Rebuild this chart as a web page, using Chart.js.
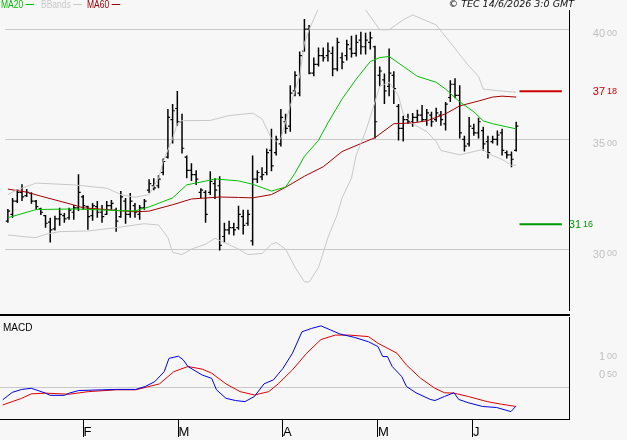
<!DOCTYPE html>
<html lang="en">
<head>
  <meta charset="UTF-8"/>
  <title>TEC chart</title>
  <style>
    body { margin: 0; background: #f7f7f7; }
    #wrap { position: relative; width: 627px; height: 440px; overflow: hidden; background: #f7f7f7; font-family: "Liberation Sans", Arial, sans-serif; }
    canvas { position: absolute; left: 0; }
    #main { top: 0; }
    #macd { top: 316px; }
    .sep { position: absolute; left: 0; top: 314px; width: 570px; height: 2px; background: #000; }
    .lg { position: absolute; top: 0; font-size: 10px; line-height: 10px; white-space: nowrap; transform: scaleX(.85); transform-origin: 0 0; }
    .dash { display: inline-block; width: 10px; height: 0; border-top: 1px solid currentColor; vertical-align: middle; margin-left: 3px; position: relative; top: -1px; }
    .copy { position: absolute; right: 53px; top: -1px; font: italic 9.5px/10px "DejaVu Sans", sans-serif; color: #111; white-space: nowrap; }
    .panel { position: absolute; left: 3px; top: 323px; font-size: 10px; line-height: 10px; color: #000; }
  </style>
</head>
<body>
  <div id="wrap">
    <canvas id="main" width="627" height="316"></canvas>
    <canvas id="macd" width="627" height="124"></canvas>
    <div class="sep"></div>
    <div class="lg" style="left:1px;color:#00c000">MA20<span class="dash"></span></div>
    <div class="lg" style="left:41px;color:#c8c8c8">BBands<span class="dash"></span></div>
    <div class="lg" style="left:87px;color:#a00000">MA60<span class="dash"></span></div>
    <div class="copy">© TEC 14/6/2026 3:0 GMT</div>
    <div class="panel">MACD</div>
  </div>
  <script src="https://cdn.jsdelivr.net/npm/chart.js"></script>
  <script>
    // daily bars, Jan -> 12 Jun 2026
    const opens = [31.30,31.60,32.20,32.60,32.45,32.55,32.20,31.85,31.55,31.25,
      30.95,31.40,31.55,31.45,31.70,31.90,32.40,31.95,31.55,31.95,
      31.70,31.60,32.00,31.80,31.50,32.20,31.60,32.00,31.60,31.90,
      32.70,32.90,32.90,33.50,34.20,35.90,36.40,35.80,34.20,33.60,
      33.40,32.60,32.60,32.60,33.00,32.90,30.60,30.90,31.00,31.00,
      31.50,31.20,30.40,33.20,33.30,33.50,34.50,34.40,34.80,35.80,
      35.60,37.20,37.10,39.00,40.00,38.00,38.40,38.80,38.80,38.90,
      38.20,38.70,38.80,39.10,38.90,39.50,39.20,39.40,39.20,37.90,
      37.70,37.40,37.90,36.50,35.50,35.90,35.80,36.00,36.10,35.90,
      36.10,35.90,36.10,35.70,36.90,37.50,37.00,35.00,34.80,35.50,
      35.30,35.40,34.90,34.90,35.00,35.30,34.40,34.30,34.50]
    const highs = [31.85,32.35,32.75,32.97,32.75,32.61,32.26,31.90,31.58,31.45,
      31.54,31.90,31.67,31.90,32.03,33.42,32.48,31.99,32.12,32.21,
      32.03,32.21,32.26,31.90,32.66,32.35,32.57,32.12,32.03,32.30,
      33.20,33.24,33.38,34.14,36.38,36.61,37.19,36.16,34.27,33.92,
      33.60,32.79,32.70,33.56,33.24,33.33,31.22,31.31,31.22,31.99,
      31.81,31.81,34.27,33.60,33.74,34.59,35.48,35.17,36.38,36.16,
      37.46,38.09,38.98,40.46,40.19,38.71,39.16,39.16,39.39,39.21,
      39.61,38.94,39.52,39.70,39.74,39.88,39.83,39.88,39.25,38.31,
      37.99,39.12,38.09,36.61,36.07,36.16,36.20,36.34,36.56,36.38,
      36.25,36.43,36.29,36.70,37.68,37.77,37.46,35.17,36.02,35.71,
      35.98,35.57,35.17,35.17,35.40,35.48,34.50,34.45,35.80]
    const lows = [31.22,31.45,32.12,32.21,32.39,32.08,31.81,31.58,31.00,30.33,
      30.87,31.09,31.22,31.36,31.36,31.76,31.81,30.91,31.31,31.45,
      31.22,31.58,31.81,30.82,31.45,31.18,31.45,31.45,31.36,31.81,
      32.57,32.70,32.79,33.38,34.14,34.81,35.62,34.36,33.24,33.11,
      32.93,32.35,31.22,32.48,32.30,29.97,30.33,30.69,30.64,30.91,
      30.69,31.09,30.19,33.02,33.15,33.38,33.56,34.27,34.68,35.26,
      35.35,36.96,36.96,38.98,37.95,37.86,38.31,38.53,38.53,37.86,
      38.09,38.18,38.58,38.71,38.76,38.85,38.85,39.07,35.04,37.41,
      36.61,36.96,36.61,34.95,34.90,35.71,35.57,35.80,35.80,35.62,
      35.57,35.80,35.62,35.40,36.70,36.87,35.04,34.45,34.68,35.17,
      35.04,34.50,34.14,34.81,34.72,34.27,34.14,33.74,34.45]
    const closes = [31.75,32.20,32.60,32.40,32.60,32.20,31.95,31.70,31.20,30.90,
      31.40,31.60,31.40,31.80,31.90,32.60,32.00,31.50,32.00,31.70,
      31.50,32.00,32.10,31.30,32.40,31.60,32.20,31.70,31.90,32.20,
      33.00,32.80,33.20,34.00,36.00,36.30,35.80,34.60,33.60,33.40,
      33.20,32.70,31.60,33.10,32.70,30.20,30.90,31.00,30.90,31.60,
      31.10,31.60,33.20,33.50,33.40,34.40,33.80,35.00,36.00,35.50,
      37.10,37.90,38.80,40.00,38.00,38.40,38.80,38.70,39.00,38.20,
      39.40,38.50,39.30,38.90,39.40,39.20,39.50,39.60,35.80,38.10,
      37.20,38.00,37.30,35.50,35.90,35.80,36.00,36.10,35.90,36.20,
      35.80,36.20,35.90,36.60,37.50,37.00,35.30,34.70,35.60,35.30,
      35.80,34.80,34.40,35.00,35.20,34.50,34.30,34.10,35.60]

    // indicator lines, read at these bar numbers
    const ma20At = [0,6,14,23,27,30,35,38,42,44,49,52,56,59,61,63,66,68,71,74,77,79,81,84,87,91,93,96,99,101,103,106,108]
    const ma20 = [31.45,31.82,31.85,31.78,31.76,31.94,32.35,32.94,33.11,33.21,33.12,32.97,32.66,32.84,33.47,34.23,34.96,35.75,36.83,37.73,38.53,38.71,38.76,38.31,37.86,37.59,37.28,36.70,36.25,35.84,35.71,35.57,35.48]
    const ma60At = [0,4,7,10,14,16,21,23,27,30,35,39,45,49,52,56,59,63,67,71,78,82,86,89,93,96,100,103,105,108]
    const ma60 = [32.75,32.61,32.43,32.26,32.03,31.90,31.82,31.78,31.72,31.75,32.04,32.30,32.39,32.37,32.35,32.50,32.83,33.33,33.76,34.45,35.08,35.71,35.75,35.84,36.16,36.52,36.74,36.92,36.96,36.92]
    const bbUpAt = [0,2,6,14,21,24,27,30,32,33,35,36,37,43,47,52,54,56,57,58,60,62,63,64,66,70,73,76,79,81,84,86,91,94,98,100,101,105,108]
    const bbUp = [32.50,32.72,33.02,32.94,32.79,32.50,32.38,32.50,33.24,34.00,35.04,35.71,35.85,35.86,36.08,36.19,35.93,35.04,34.92,35.04,36.53,37.87,39.37,39.97,40.94,41.70,41.60,40.87,39.97,39.97,40.42,40.64,40.19,39.39,38.31,37.86,37.28,37.19,37.14]
    const bbLowAt = [0,4,6,8,11,17,23,29,32,34,35,37,39,42,44,46,49,51,54,56,57,59,61,63,64,66,68,70,71,73,74,76,78,79,81,83,84,86,89,91,92,96,99,101,102,105,107,108]
    const bbLow = [30.67,30.58,30.55,30.70,30.82,30.85,31.00,31.18,31.12,30.55,29.88,29.78,30.03,30.25,30.52,30.33,30.03,29.78,29.83,30.25,30.33,30.03,29.21,28.55,28.53,29.20,30.55,31.60,32.35,33.24,34.29,35.35,36.70,37.41,37.59,36.96,36.16,35.71,35.35,34.90,34.50,34.30,34.45,34.55,34.36,34.09,33.83,33.83]

    // levels shown at the right
    const levels = [37.18, 31.16]

    // MACD panel
    const macdAt = [0,2,4,6,7,9,10,13,14,16,21,24,28,30,32,34,35,37,38,39,42,44,45,47,49,51,53,55,57,59,61,63,65,67,69,71,74,77,79,80,81,82,84,85,87,90,91,93,95,96,98,101,104,107,108]
    const macd = [-0.32,-0.12,-0.04,-0.01,-0.05,-0.14,-0.20,-0.20,-0.14,-0.07,-0.05,-0.04,-0.04,0.04,0.17,0.44,0.80,0.86,0.76,0.58,0.35,0.26,-0.05,-0.28,-0.34,-0.37,-0.23,0.11,0.22,0.53,0.94,1.52,1.61,1.68,1.57,1.46,1.37,1.25,1.12,0.85,0.85,0.58,0.31,0.04,-0.13,-0.31,-0.34,-0.23,-0.13,-0.31,-0.40,-0.50,-0.53,-0.64,-0.50]
    const signalAt = [0,4,6,9,14,18,24,28,33,36,39,42,44,47,50,53,56,58,61,64,67,70,73,77,79,83,85,88,91,93,95,98,102,105,108]
    const signal = [-0.46,-0.28,-0.16,-0.14,-0.17,-0.10,-0.05,-0.05,0.11,0.44,0.58,0.51,0.40,0.11,-0.10,-0.19,-0.10,0.11,0.49,0.94,1.31,1.43,1.43,1.39,1.21,0.94,0.62,0.26,-0.01,-0.13,-0.14,-0.23,-0.37,-0.44,-0.50]

    const monthStarts = [17, 37, 59, 79, 99]
    const monthLabels = ['F', 'M', 'A', 'M', 'J']
    const priceTicks = [30, 35, 40]
    const macdTicks = [0.5, 1]

    // layout of the plot
    const X_MIN = -0.57, X_MAX = 119.22
    const LEVEL_FROM = 108.7, LEVEL_TO = 117.7
    const TICK = 0.24
    const GRAY = '#c8c8c8'
    Chart.defaults.font.family = '"Liberation Sans", Arial, sans-serif'

    const pts = (xs, ys) => xs.map((x, k) => ({ x, y: ys[k] }))
    const idx = opens.map((_, i) => i)
    const line = (label, data, color, width) => ({
      type: 'line', label, data, borderColor: color, borderWidth: width || 1,
      pointRadius: 0, tension: 0, order: 1
    })

    // price labels like 40⁰⁰
    const splitLabels = {
      id: 'splitLabels',
      afterDraw(chart, args, opts) {
        const ctx = chart.ctx, y = chart.scales.y
        ctx.save()
        ctx.textBaseline = 'alphabetic'
        opts.items.forEach(it => {
          const [big, small] = it.value.toFixed(2).split('.')
          const py = y.getPixelForValue(it.value) + it.shift
          ctx.fillStyle = it.color
          ctx.font = '11px "Liberation Sans", Arial, sans-serif'
          ctx.textAlign = 'right'
          ctx.fillText(big, it.x, py)
          ctx.font = '9px "Liberation Sans", Arial, sans-serif'
          ctx.textAlign = 'left'
          ctx.fillText(small, it.x + 2, py - 1.5)
        })
        ctx.restore()
      }
    }

    new Chart(document.getElementById('main'), {
      type: 'bar',
      data: {
        datasets: [
          line('MA20', pts(ma20At, ma20), '#00c000'),
          line('BB up', pts(bbUpAt, bbUp), GRAY),
          line('BB low', pts(bbLowAt, bbLow), GRAY),
          line('MA60', pts(ma60At, ma60), '#a00000'),
          line('resistance', [{ x: LEVEL_FROM, y: levels[0] }, { x: LEVEL_TO, y: levels[0] }], '#cc0000', 2),
          line('support', [{ x: LEVEL_FROM, y: levels[1] }, { x: LEVEL_TO, y: levels[1] }], '#009900', 2),
          {
            type: 'bar', label: 'range', order: 3,
            data: idx.map(i => ({ x: i, y: [lows[i], highs[i]] })),
            backgroundColor: '#000', barThickness: 1.5, inflateAmount: 0, borderWidth: 0
          },
          {
            type: 'scatter', label: 'open', order: 2,
            data: idx.map(i => ({ x: i - TICK, y: opens[i] })),
            pointStyle: 'line', radius: 1.1, borderColor: '#000', borderWidth: 1.2
          },
          {
            type: 'scatter', label: 'close', order: 2,
            data: idx.map(i => ({ x: i + TICK, y: closes[i] })),
            pointStyle: 'line', radius: 1.1, borderColor: '#000', borderWidth: 1.2
          }
        ]
      },
      options: {
        responsive: false, animation: false, events: [],
        layout: { padding: { top: 10, bottom: 2, left: 0, right: 0 } },
        plugins: {
          legend: { display: false }, tooltip: { enabled: false },
          splitLabels: { items: [
            ...priceTicks.map(v => ({ value: v, color: '#c0c0c0', x: 605, shift: 8 })),
            { value: levels[0], color: '#cc0000', x: 605, shift: 4 },
            { value: levels[1], color: '#009900', x: 581, shift: 4 }
          ] }
        },
        scales: {
          x: { type: 'linear', min: X_MIN, max: X_MAX, offset: false, display: false },
          y: {
            position: 'right', min: 27.233, max: 40.865,
            afterFit: s => { s.width = 58 },
            afterBuildTicks: s => { s.ticks = priceTicks.map(v => ({ value: v })) },
            grid: { color: GRAY, drawTicks: false },
            border: { color: '#000' },
            ticks: { display: false }
          }
        }
      },
      plugins: [splitLabels]
    })

    new Chart(document.getElementById('macd'), {
      type: 'line',
      data: {
        datasets: [
          line('MACD', pts(macdAt, macd), '#0000e0'),
          line('Signal', pts(signalAt, signal), '#dd0000')
        ]
      },
      options: {
        responsive: false, animation: false, events: [],
        layout: { padding: { top: 1, left: 0, right: 0, bottom: 0 } },
        plugins: {
          legend: { display: false }, tooltip: { enabled: false },
          splitLabels: { items: macdTicks.map(v => ({ value: v, color: '#c0c0c0', x: 605, shift: 9 })) }
        },
        scales: {
          x: {
            type: 'linear', min: X_MIN, max: X_MAX, offset: false,
            afterFit: s => { s.height = 21 },
            afterBuildTicks: s => { s.ticks = monthStarts.map(v => ({ value: v })) },
            grid: { drawOnChartArea: false, tickLength: 18, color: '#000' },
            border: { color: '#000' },
            ticks: {
              align: 'start', padding: -12, color: '#000', maxRotation: 0, autoSkip: false,
              font: { size: 13 },
              callback: (v, i) => monthLabels[i]
            }
          },
          y: {
            position: 'right', min: -0.84, max: 1.92,
            afterFit: s => { s.width = 58 },
            afterBuildTicks: s => { s.ticks = [0, ...macdTicks].map(v => ({ value: v })) },
            grid: { color: c => c.tick && c.tick.value === 0 ? GRAY : 'rgba(0,0,0,0)', drawTicks: false },
            border: { color: '#000' },
            ticks: { display: false }
          }
        }
      },
      plugins: [splitLabels]
    })
  </script>
</body>
</html>
